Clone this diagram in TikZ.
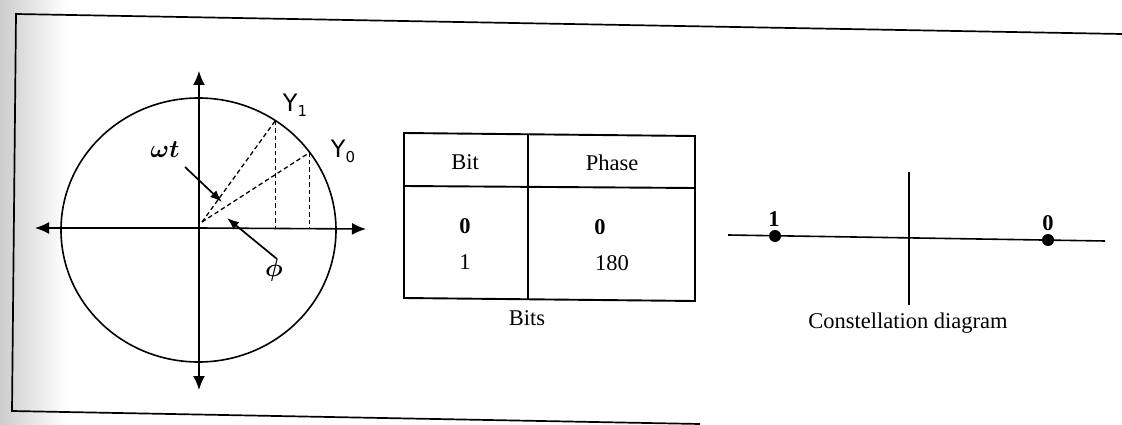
\documentclass[tikz,border=0pt]{standalone}
\usepackage{fontspec}
\setmainfont{Liberation Serif}
\newfontfamily\ysans{DejaVu Sans}
\usetikzlibrary{arrows.meta,calc}
\begin{document}
\begin{tikzpicture}[x=1pt,y=-1pt,line width=1.6pt,
  axis/.style={-{Latex[length=14pt,width=12pt]}},
  pointer/.style={line width=1.7pt,-{Latex[length=12pt,width=9pt]}},
  proj/.style={line width=1.3pt,dash pattern=on 4.5pt off 3pt},
  tbl/.style={line width=1.9pt},
  txt/.style={font=\fontsize{22.5}{26}\selectfont,inner sep=0pt},
  ylab/.style={font=\ysans\fontsize{24}{26}\selectfont,inner sep=0pt},
  dotpt/.style={fill=black}]
\useasboundingbox (0,0) rectangle (1122,425);
% scanned paper shading on the left
\shade[left color=gray!40,right color=white,draw=none] (0,0) rectangle (66,425);
% page frame
\draw[line width=1.7pt] (1122,34) -- (16,14) -- (12,411) -- (700,424);

% ---------------- phasor circle ----------------
\coordinate (C) at (198.5,230);
\coordinate (O) at (199,228);
\coordinate (P) at (202,222);
\draw (C) ellipse [x radius=137.5pt,y radius=132pt];
\coordinate (xl) at (35,228);
\coordinate (xr) at (366,229);
\coordinate (yt) at (199,71);
\coordinate (yb) at (199,390);
\draw[axis] (O) -- (xl);
\draw[axis] (O) -- (xr);
\draw[axis] (O) -- (yt);
\draw[axis] (O) -- (yb);
\coordinate (Y1) at ($(C)+(-56:137.5 and 132)$);
\coordinate (Y0) at ($(C)+(-36:137.5 and 132)$);
\draw[proj] (P) -- (Y1);
\draw[proj] (P) -- (Y0);
\draw[proj] (Y1) -- (Y1 |- O);
\draw[proj] (Y0) -- (Y0 |- O);
\node[ylab] (y1lab) at (295,105) {Y\raisebox{-0.4ex}{\fontsize{15}{15}\selectfont 1}};
\node[ylab] (y0lab) at (343,151) {Y\raisebox{-0.4ex}{\fontsize{15}{15}\selectfont 0}};
\node[inner sep=0pt,font=\boldmath\fontsize{27}{30}\selectfont] (wt) at (165,150) {$\omega t$};
\node[inner sep=0pt,font=\boldmath\fontsize{27}{30}\selectfont] (phi) at (274,270) {$\phi$};
\coordinate (wta) at (185,167);
\coordinate (wtb) at (222,202);
\coordinate (phia) at (277,259);
\coordinate (phib) at (227,218);
\draw[pointer] (wta) -- (wtb);
\draw[pointer] (phia) -- (phib);

% ---------------- table ----------------
\coordinate (t1) at (404,133);
\coordinate (t2) at (695,136);
\coordinate (t3) at (695,301);
\coordinate (t4) at (404,298);
\draw[tbl] (t1) -- (t2) -- (t3) -- (t4) -- cycle;
\draw[tbl] (528,134) -- (528,300);
\draw[tbl] (404,186) -- (695,188);
\node[txt] (hbit) at (465,162) {Bit};
\node[txt] (hphase) at (612,163) {Phase};
\node[txt] (b0) at (465,226) {\bfseries 0};
\node[txt] (b1) at (465,262) {1};
\node[txt] (p0) at (600,227) {\bfseries 0};
\node[txt] (p1) at (612,263) {180};
\node[txt] (bits) at (527,318) {Bits};

% ---------------- constellation ----------------
\coordinate (cl) at (728,235);
\coordinate (cr) at (1105,241);
\coordinate (ct) at (909,172);
\coordinate (cb) at (909,305);
\draw (cl) -- (cr);
\draw (ct) -- (cb);
\fill[dotpt] (775,236) circle (6pt);
\fill[dotpt] (1048,240) circle (6pt);
\node[txt] (c1) at (774,219) {\bfseries 1};
\node[txt] (c0) at (1048,223) {\bfseries 0};
\node[txt] (cap) at (908,323) {Constellation diagram};
\end{tikzpicture}
\end{document}
